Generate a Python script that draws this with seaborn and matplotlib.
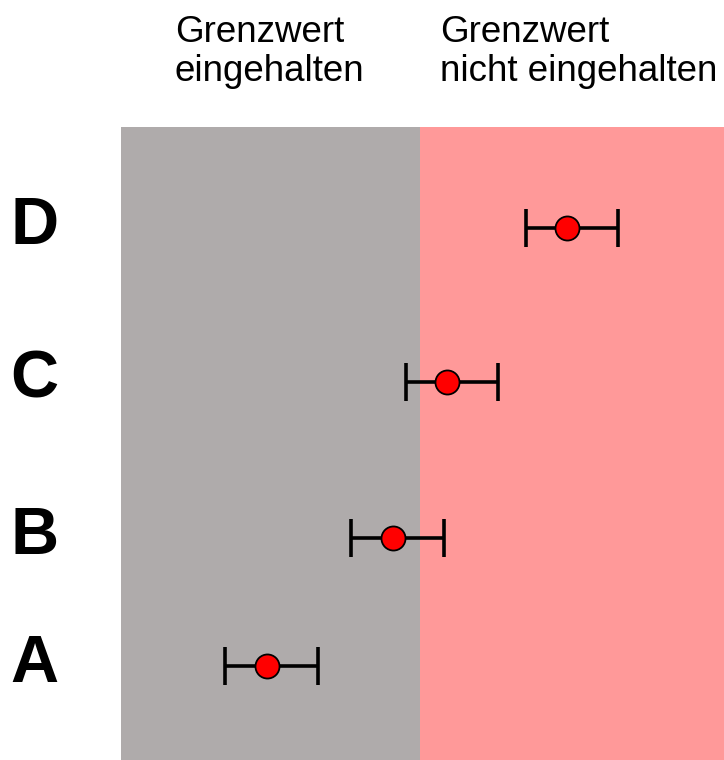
import matplotlib
matplotlib.use("Agg")
import matplotlib.pyplot as plt
import seaborn as sns
import pandas as pd

# Daten
labels = ["A", "B", "C", "D"]
werte = [2.42, 4.51, 5.41, 7.40]
fehler_links = [0.69, 0.69, 0.69, 0.69]
fehler_rechts = [0.84, 0.84, 0.84, 0.84]
ypos = [0.94, 2.22, 3.78, 5.32]
grenzwert = 4.96
x_max = 10.0
y_max = 6.33

df = pd.DataFrame({"label": labels, "wert": werte, "y": ypos,
                   "links": fehler_links, "rechts": fehler_rechts})

sns.set_style("white")
plt.rcParams['font.family'] = ['Liberation Sans', 'DejaVu Sans']
plt.rcParams['text.color'] = 'black'
plt.rcParams['ytick.color'] = 'black'

fig = plt.figure(figsize=(7.24, 7.6), dpi=100)
ax = fig.add_axes([121 / 724, 0, 603 / 724, 633 / 760])

# Hintergrundbereiche
ax.axvspan(0, grenzwert, color="#AFABAB", lw=0, zorder=0)
ax.axvspan(grenzwert, x_max, color="#FF9999", lw=0, zorder=0)

# Fehlerbalken
ax.errorbar(df["wert"], df["y"], xerr=[df["links"], df["rechts"]], fmt="none",
            ecolor="black", elinewidth=2.6, capsize=13.5, capthick=2.6, zorder=2)

# Punkte
sns.scatterplot(data=df, x="wert", y="y", ax=ax, s=300, color="#FF0000",
                edgecolor="black", linewidth=1.3, zorder=3, legend=False)

ax.set_xlim(0, x_max)
ax.set_ylim(0, y_max)
ax.set_xticks([])
ax.set_yticks(df["y"] + 0.08)
ax.set_yticklabels(df["label"], fontsize=48, fontweight="bold", color="black")
ax.tick_params(axis="y", length=0, pad=45)
ax.set_xlabel("")
ax.set_ylabel("")
for s in ax.spines.values():
    s.set_visible(False)

# Überschriften
fig.text(175 / 724, 1 - 15 / 760, "Grenzwert\neingehalten", fontsize=26.5,
         ha="left", va="top", linespacing=1.15, color="black")
fig.text(440 / 724, 1 - 15 / 760, "Grenzwert\nnicht eingehalten", fontsize=26.5,
         ha="left", va="top", linespacing=1.15, color="black")

fig.savefig("out.png", dpi=100)
